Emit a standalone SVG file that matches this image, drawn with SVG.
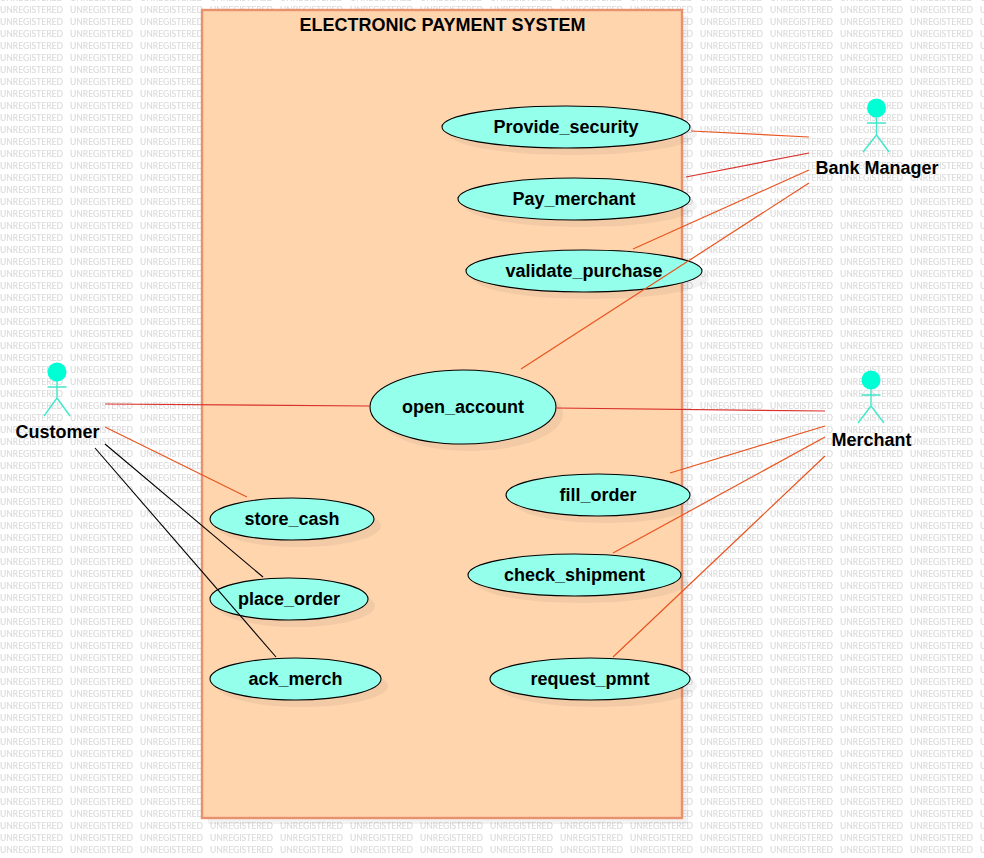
<svg xmlns="http://www.w3.org/2000/svg" width="984" height="858" viewBox="0 0 984 858">
<style>
.wm{font:8.5px Lato,"Open Sans",sans-serif;fill:#dadada;stroke:#dadada;stroke-width:.15}
.shadow{fill:#000;fill-opacity:.05}
.boundary{fill:#ffd5ae;stroke:#e8916f;stroke-width:2.4}
.uc{fill:#94ffea;stroke:#000;stroke-width:1.1}
.lbl{font:bold 18px "Liberation Sans",Arial,sans-serif;fill:#000;text-anchor:middle}
.head{fill:#00ffd5}
.limb{fill:none;stroke:#40e8cc;stroke-width:1.4}
.c{fill:none;stroke-width:1.2}
.red{stroke:#d9302a}.or{stroke:#e8541f}.bk{stroke:#000;stroke-width:1.1}
</style>
<defs>
<pattern id="wmark" width="70" height="12" patternUnits="userSpaceOnUse" y="-6">
<text class="wm" x="0" y="6.500" textLength="63" lengthAdjust="spacingAndGlyphs">UNREGISTERED</text>
</pattern>
</defs>
<rect width="984" height="858" fill="#fff"/>
<rect width="984" height="858" fill="url(#wmark)"/>
<g id="system">
<rect class="shadow" x="208" y="16" width="480" height="808"/>
<rect class="boundary" x="202" y="10" width="480" height="808"/>
<text class="lbl" x="442.500" y="31">ELECTRONIC PAYMENT SYSTEM</text>
</g>
<g id="provide_security"><ellipse class="shadow" cx="573" cy="134" rx="124" ry="21"/><ellipse class="uc" cx="566" cy="127" rx="124" ry="21"/><text class="lbl" x="566" y="133">Provide_security</text></g>
<g id="pay_merchant"><ellipse class="shadow" cx="581" cy="206" rx="116" ry="21"/><ellipse class="uc" cx="574" cy="199" rx="116" ry="21"/><text class="lbl" x="574" y="205">Pay_merchant</text></g>
<g id="validate_purchase"><ellipse class="shadow" cx="591" cy="278" rx="118" ry="21"/><ellipse class="uc" cx="584" cy="271" rx="118" ry="21"/><text class="lbl" x="584" y="277">validate_purchase</text></g>
<g id="open_account"><ellipse class="shadow" cx="470" cy="414" rx="93" ry="37"/><ellipse class="uc" cx="463" cy="407" rx="93" ry="37"/><text class="lbl" x="463" y="413">open_account</text></g>
<g id="fill_order"><ellipse class="shadow" cx="605" cy="502" rx="92" ry="21"/><ellipse class="uc" cx="598" cy="495" rx="92" ry="21"/><text class="lbl" x="598" y="501">fill_order</text></g>
<g id="check_shipment"><ellipse class="shadow" cx="581.500" cy="582" rx="106.500" ry="21"/><ellipse class="uc" cx="574.500" cy="575" rx="106.500" ry="21"/><text class="lbl" x="574.500" y="581">check_shipment</text></g>
<g id="request_pmnt"><ellipse class="shadow" cx="597" cy="686" rx="100" ry="21"/><ellipse class="uc" cx="590" cy="679" rx="100" ry="21"/><text class="lbl" x="590" y="685">request_pmnt</text></g>
<g id="store_cash"><ellipse class="shadow" cx="299" cy="526" rx="82" ry="21"/><ellipse class="uc" cx="292" cy="519" rx="82" ry="21"/><text class="lbl" x="292" y="525">store_cash</text></g>
<g id="place_order"><ellipse class="shadow" cx="296" cy="606" rx="79" ry="21"/><ellipse class="uc" cx="289" cy="599" rx="79" ry="21"/><text class="lbl" x="289" y="605">place_order</text></g>
<g id="ack_merch"><ellipse class="shadow" cx="302.500" cy="686" rx="85.500" ry="21"/><ellipse class="uc" cx="295.500" cy="679" rx="85.500" ry="21"/><text class="lbl" x="295.500" y="685">ack_merch</text></g>
<g id="connectors">
<line class="c or" x1="691" y1="131" x2="809" y2="137"/>
<line class="c red" x1="686" y1="177" x2="809" y2="153"/>
<line class="c or" x1="633" y1="249" x2="809" y2="170"/>
<line class="c or" x1="521" y1="369" x2="809" y2="183"/>
<line class="c red" x1="105" y1="404" x2="370" y2="406"/>
<line class="c or" x1="105" y1="427" x2="247" y2="497"/>
<line class="c bk" x1="105" y1="444" x2="263" y2="577"/>
<line class="c bk" x1="95" y1="448" x2="276" y2="657"/>
<line class="c red" x1="556" y1="408" x2="825" y2="411"/>
<line class="c or" x1="670" y1="473" x2="825" y2="426"/>
<line class="c or" x1="613" y1="553" x2="825" y2="437"/>
<line class="c or" x1="613" y1="657" x2="825" y2="456"/>
</g>
<g id="bank_manager"><circle class="head" cx="876.500" cy="108" r="9.500"/><path class="limb" d="M867 123H886M876.500 117V135L863 152M876.500 135L889 152"/><text class="lbl" x="877" y="174">Bank Manager</text></g>
<g id="customer"><circle class="head" cx="57" cy="372" r="9.500"/><path class="limb" d="M47.500 387H66.500M57 381V398L44 416M57 398L70 416"/><text class="lbl" x="57.500" y="438">Customer</text></g>
<g id="merchant"><circle class="head" cx="871" cy="380" r="9.500"/><path class="limb" d="M861.500 395H880.500M871 389V406L858 423M871 406L884 423"/><text class="lbl" x="871.500" y="446">Merchant</text></g>
</svg>
